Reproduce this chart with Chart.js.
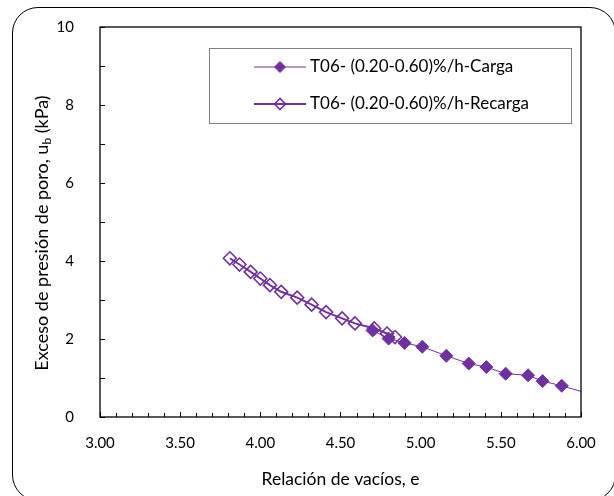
<!DOCTYPE html>
<html lang="es">
<head>
    <meta charset="UTF-8">
    <title>Exceso de presión de poro vs Relación de vacíos</title>
    <script src="https://cdn.jsdelivr.net/npm/chart.js@4.4.0/dist/chart.umd.min.js"></script>
    <style>
        * { margin: 0; padding: 0; box-sizing: border-box; }
        body { background: #fff; width: 614px; height: 496px; overflow: hidden; }
        #wrap { position: relative; width: 614px; height: 496px; }
        #frame {
            position: absolute; left: 12px; top: 7px; width: 604px; height: 494px;
            border: 1.3px solid #000; border-radius: 26px; pointer-events: none;
        }
        canvas { position: absolute; left: 0; top: 0; }
    </style>
</head>
<body>
<div id="wrap">
    <canvas id="chart" width="614" height="496"></canvas>
    <div id="frame"></div>
</div>
<script>
    // Datos
    const cargaE = [4.70, 4.80, 4.90, 5.01, 5.16, 5.30, 5.41, 5.53, 5.67, 5.76, 5.88, 6.03];
    const cargaU = [2.22, 2.01, 1.90, 1.80, 1.57, 1.37, 1.28, 1.11, 1.07, 0.92, 0.80, 0.62];
    const recargaE = [3.81, 3.87, 3.94, 4.00, 4.06, 4.13, 4.23, 4.32, 4.41, 4.51, 4.59, 4.71, 4.79, 4.84];
    const recargaU = [4.07, 3.91, 3.72, 3.55, 3.38, 3.21, 3.06, 2.88, 2.69, 2.53, 2.40, 2.27, 2.14, 2.05];
    const xTicks = [3.00, 3.50, 4.00, 4.50, 5.00, 5.50, 6.00];
    const yTicks = [0, 2, 4, 6, 8, 10];
    const seriesNames = ['T06- (0.20-0.60)%/h-Carga', 'T06- (0.20-0.60)%/h-Recarga'];

    const purple = '#7030A0';
    const FONT = 'Lato, "Liberation Sans", sans-serif';

    const toPoints = (xs, ys) => xs.map((x, i) => ({ x: x, y: ys[i] }));

    // Marcos, ticks interiores, títulos y leyenda
    const decor = {
        id: 'decor',
        afterDraw(chart) {
            const ctx = chart.ctx;
            const a = chart.chartArea;
            const xs = chart.scales.x, ys = chart.scales.y;
            ctx.save();
            ctx.strokeStyle = '#000';
            ctx.lineWidth = 1.3;
            ctx.strokeRect(a.left, a.top, a.right - a.left, a.bottom - a.top);

            // ticks hacia dentro
            ctx.lineWidth = 1;
            ctx.beginPath();
            for (let v = 3; v <= 6.001; v += 0.1) {
                const px = Math.round(xs.getPixelForValue(v)) + 0.5;
                const major = Math.abs(v * 2 - Math.round(v * 2)) < 0.001;
                ctx.moveTo(px, a.bottom);
                ctx.lineTo(px, a.bottom - (major ? 5 : 4));
            }
            for (let v = 0; v <= 10; v += 1) {
                const py = Math.round(ys.getPixelForValue(v)) + 0.5;
                ctx.moveTo(a.left, py);
                ctx.lineTo(a.left + 5, py);
            }
            ctx.stroke();

            // título eje x
            ctx.fillStyle = '#000';
            ctx.font = '17.5px ' + FONT;
            ctx.textAlign = 'center';
            ctx.textBaseline = 'middle';
            ctx.fillText('Relación de vacíos, e', (a.left + a.right) / 2, 479);

            // título eje y con subíndice
            ctx.translate(42, 233);
            ctx.rotate(-Math.PI / 2);
            const p1 = 'Exceso de presión de poro, u';
            const p2 = 'b';
            const p3 = ' (kPa)';
            ctx.font = '18px ' + FONT;
            const w1 = ctx.measureText(p1).width;
            const w3 = ctx.measureText(p3).width;
            ctx.font = '12px ' + FONT;
            const w2 = ctx.measureText(p2).width;
            let sx = -(w1 + w2 + w3) / 2;
            ctx.textAlign = 'left';
            ctx.font = '18px ' + FONT;
            ctx.fillText(p1, sx, 0);
            sx += w1;
            ctx.font = '12px ' + FONT;
            ctx.fillText(p2, sx, 5);
            sx += w2;
            ctx.font = '18px ' + FONT;
            ctx.fillText(p3, sx, 0);
            ctx.restore();

            // leyenda
            ctx.save();
            ctx.strokeStyle = '#808080';
            ctx.lineWidth = 1;
            ctx.strokeRect(209.5, 48.5, 362, 75);
            const rows = [67, 104];
            chart.data.datasets.forEach((ds, i) => {
                const y = rows[i];
                ctx.strokeStyle = ds.borderColor;
                ctx.lineWidth = ds.borderWidth;
                ctx.beginPath();
                ctx.moveTo(254, y);
                ctx.lineTo(306, y);
                ctx.stroke();
                ctx.fillStyle = ds.pointBackgroundColor;
                ctx.strokeStyle = ds.pointBorderColor;
                ctx.lineWidth = ds.pointBorderWidth;
                Chart.helpers.drawPoint(ctx, { pointStyle: 'rectRot', radius: 5.5, borderWidth: ds.pointBorderWidth }, 280, y);
                ctx.fillStyle = '#000';
                ctx.font = '17px ' + FONT;
                ctx.textAlign = 'left';
                ctx.textBaseline = 'middle';
                ctx.fillText(seriesNames[i], 310, y);
            });
            ctx.restore();
        }
    };

    new Chart(document.getElementById('chart'), {
        type: 'scatter',
        data: {
            datasets: [
                {
                    label: seriesNames[0],
                    data: toPoints(cargaE, cargaU),
                    showLine: true,
                    borderColor: purple,
                    borderWidth: 1,
                    pointStyle: 'rectRot',
                    pointRadius: cargaE.map(e => e > 6 ? 0 : 6.5),
                    pointBackgroundColor: purple,
                    pointBorderColor: purple,
                    pointBorderWidth: 1
                },
                {
                    label: seriesNames[1],
                    data: toPoints(recargaE, recargaU),
                    showLine: true,
                    borderColor: purple,
                    borderWidth: 2,
                    pointStyle: 'rectRot',
                    pointRadius: 6.5,
                    pointBackgroundColor: 'rgba(0,0,0,0)',
                    pointBorderColor: purple,
                    pointBorderWidth: 1.6
                }
            ]
        },
        options: {
            responsive: false,
            animation: false,
            layout: { padding: { top: 27, right: 33, left: 0, bottom: 0 } },
            plugins: { legend: { display: false }, tooltip: { enabled: false } },
            scales: {
                x: {
                    type: 'linear', min: 3, max: 6,
                    afterBuildTicks: s => { s.ticks = xTicks.map(v => ({ value: v })); },
                    afterFit: s => { s.height = 79; },
                    grid: { display: false },
                    border: { display: false },
                    ticks: {
                        padding: 9, color: '#000', font: { family: FONT, size: 15 },
                        callback: v => v.toFixed(2)
                    }
                },
                y: {
                    type: 'linear', min: 0, max: 10,
                    afterBuildTicks: s => { s.ticks = yTicks.map(v => ({ value: v })); },
                    afterFit: s => { s.width = 100; },
                    grid: { display: false },
                    border: { display: false },
                    ticks: {
                        padding: 18, color: '#000', font: { family: FONT, size: 15 },
                        callback: v => String(v)
                    }
                }
            }
        },
        plugins: [decor]
    });
</script>
</body>
</html>
